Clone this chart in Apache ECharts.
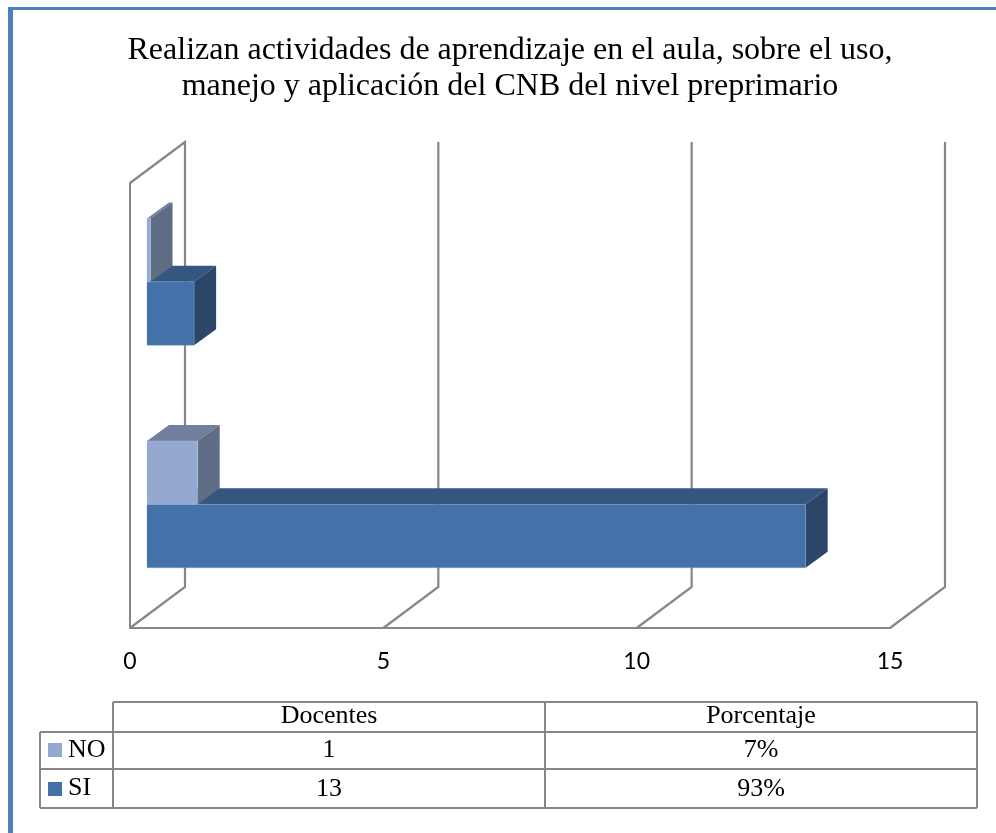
<!DOCTYPE html>
<html>
<head>
<meta charset="utf-8">
<style>
html,body{margin:0;padding:0;background:#fff;}
#main{width:996px;height:833px;}
</style>
<script src="https://cdn.jsdelivr.net/npm/echarts@6/dist/echarts.min.js"></script>
</head>
<body>
<div id="main"></div>
<script>
var titleText = 'Realizan actividades de aprendizaje en el aula, sobre el uso,\nmanejo y aplicación del CNB del nivel preprimario';
var categories = ['Docentes', 'Porcentaje'];
var xTicks = [0, 5, 10, 15];
var siValues = [13, 0.93];
var noValues = [1, 0.07];
var tableHead = ['Docentes', 'Porcentaje'];
var tableNo = ['1', '7%'];
var tableSi = ['13', '93%'];

var gridColor = '#868686';
var serif = '"Liberation Serif", serif';

var siColors = { front: '#4471a7', top: '#35567f', side: '#2b4669', edge: '#7e9cc4' };
var noColors = { front: '#95a9d0', top: '#6f7f9d', side: '#5e6d84', edge: '#b4c3df' };

var wallDx = 55, wallDy = 41;
var insetDx = 17, insetDy = 12.4;
var depthDx = 22, depthDy = 16;
var barRatio = 0.285;

var myChart = echarts.init(document.getElementById('main'));

function wallItem(params, api) {
    var sys = params.coordSys;
    var x = api.coord([api.value(0), 0])[0];
    var bottom = sys.y + sys.height;
    var points = [[x, bottom], [x + wallDx, bottom - wallDy], [x + wallDx, sys.y - wallDy]];
    if (api.value(0) === 0) {
        points.push([x, sys.y]);
    }
    return {
        type: 'polyline',
        shape: { points: points },
        style: { fill: 'none', stroke: gridColor, lineWidth: 2.2 }
    };
}

// side: -1 bar above the category centre, 0 below it
function barItem(colors, side) {
    return function (params, api) {
        var end = api.coord([api.value(0), api.value(1)]);
        var start = api.coord([0, api.value(1)]);
        var h = api.size([0, 1])[1] * barRatio;
        var x0 = start[0] + insetDx;
        var x1 = end[0] + insetDx;
        var y0 = end[1] - insetDy + side * h;
        var y1 = y0 + h;
        return {
            type: 'group',
            children: [{
                type: 'polygon',
                shape: { points: [[x0, y0], [x1, y0], [x1 + depthDx, y0 - depthDy], [x0 + depthDx, y0 - depthDy]] },
                style: { fill: colors.top }
            }, {
                type: 'polygon',
                shape: { points: [[x1, y0], [x1 + depthDx, y0 - depthDy], [x1 + depthDx, y1 - depthDy], [x1, y1]] },
                style: { fill: colors.side }
            }, {
                type: 'rect',
                shape: { x: x0, y: y0, width: x1 - x0, height: h },
                style: { fill: colors.front, stroke: colors.edge, lineWidth: 0.4 }
            }]
        };
    };
}

function pairs(values) {
    return values.map(function (v, i) { return [v, i]; });
}

function line(x1, y1, x2, y2) {
    return {
        type: 'line',
        shape: { x1: x1, y1: y1, x2: x2, y2: y2 },
        style: { stroke: gridColor, lineWidth: 2 },
        silent: true
    };
}

function cellText(text, x, y, align) {
    return {
        type: 'text',
        x: x,
        y: y,
        style: { text: text, fill: '#000', font: '26px ' + serif, textAlign: align || 'center', textVerticalAlign: 'middle' },
        silent: true
    };
}

function swatch(x, y, color) {
    return { type: 'rect', shape: { x: x, y: y, width: 14, height: 14 }, style: { fill: color }, silent: true };
}

var colX = [40, 113, 545, 977];
var rowY = [702, 732, 769, 808];
var graphics = [
    { type: 'rect', shape: { x: 8, y: 7, width: 988, height: 3 }, style: { fill: '#4f81bd' }, silent: true },
    { type: 'rect', shape: { x: 8, y: 7, width: 5, height: 826 }, style: { fill: '#4f81bd' }, silent: true },
    line(colX[1], rowY[0], colX[3], rowY[0]),
    line(colX[0], rowY[1], colX[3], rowY[1]),
    line(colX[0], rowY[2], colX[3], rowY[2]),
    line(colX[0], rowY[3], colX[3], rowY[3]),
    line(colX[0], rowY[1], colX[0], rowY[3]),
    line(colX[1], rowY[0], colX[1], rowY[3]),
    line(colX[2], rowY[0], colX[2], rowY[3]),
    line(colX[3], rowY[0], colX[3], rowY[3]),
    swatch(48, 743, noColors.front),
    swatch(48, 782, siColors.front),
    cellText('NO', 68, 750, 'left'),
    cellText('SI', 68, 788, 'left')
];
tableHead.forEach(function (t, i) {
    var cx = (colX[i + 1] + colX[i + 2]) / 2;
    graphics.push(cellText(t, cx, 716));
    graphics.push(cellText(tableNo[i], cx, 750.5));
    graphics.push(cellText(tableSi[i], cx, 789));
});

var option = {
    animation: false,
    backgroundColor: '#fff',
    title: {
        text: titleText,
        left: 505,
        top: 28,
        textAlign: 'center',
        textStyle: {
            fontFamily: serif,
            fontWeight: 'normal',
            fontSize: 32,
            lineHeight: 36,
            color: '#000'
        }
    },
    grid: { left: 130, right: 106, top: 183, bottom: 205 },
    xAxis: {
        type: 'value',
        min: 0,
        max: 15,
        interval: 5,
        splitLine: { show: false },
        axisTick: { show: false },
        axisLine: { show: true, lineStyle: { color: gridColor, width: 2 } },
        axisLabel: { fontFamily: 'Lato', fontSize: 23, color: '#000', margin: 22 }
    },
    yAxis: {
        type: 'category',
        data: categories,
        axisTick: { show: false },
        axisLabel: { show: false },
        axisLine: { show: true, lineStyle: { color: gridColor, width: 2 } }
    },
    series: [{
        name: 'walls',
        type: 'custom',
        silent: true,
        data: xTicks.map(function (t) { return [t]; }),
        encode: { x: 0 },
        renderItem: wallItem
    }, {
        name: 'SI',
        type: 'custom',
        data: pairs(siValues),
        encode: { x: 0, y: 1 },
        renderItem: barItem(siColors, 0)
    }, {
        name: 'NO',
        type: 'custom',
        data: pairs(noValues),
        encode: { x: 0, y: 1 },
        renderItem: barItem(noColors, -1)
    }],
    graphic: graphics
};

myChart.setOption(option);
</script>
</body>
</html>
